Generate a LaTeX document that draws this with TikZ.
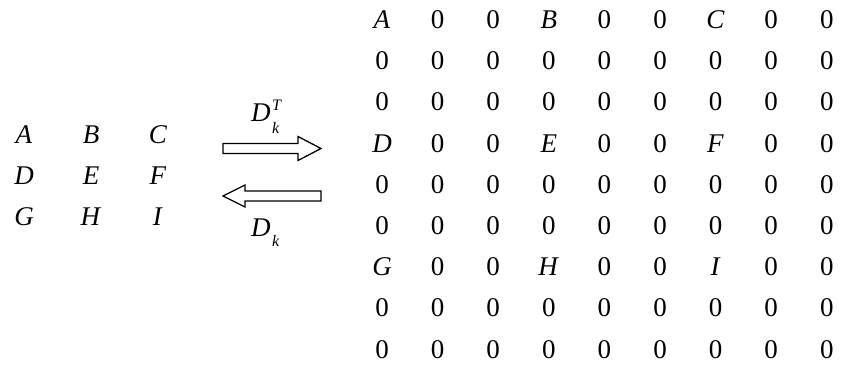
\documentclass[tikz,border=0pt]{standalone}
\usepackage{fontspec}
\setmainfont{Liberation Serif}
\usetikzlibrary{calc}
\begin{document}
\begin{tikzpicture}[x=1pt,y=-1pt,
  ent/.style={anchor=base, inner sep=0pt, font=\fontsize{27}{30}\selectfont},
  idx/.style={anchor=base west, inner sep=0pt, font=\fontsize{16}{18}\selectfont\itshape},
  blockarrow/.style={draw=black, line width=1.3pt, fill=white, line join=miter}]
\useasboundingbox (0,0) rectangle (847,369);

% 3x3 block of samples
\foreach \t [count=\i from 0] in {A,B,C,D,E,F,G,H,I}{
  \pgfmathtruncatemacro{\r}{div(\i,3)}
  \pgfmathtruncatemacro{\c}{mod(\i,3)}
  \node[ent] (s-\t) at ({24+67*\c},{143+41*\r}) {\textit{\t}};
}

% 9x9 upsampled block: samples on every third row and column, zeros elsewhere
\foreach \r in {0,...,8}{
  \foreach \c in {0,...,8}{
    \pgfmathtruncatemacro{\rm}{mod(\r,3)}
    \pgfmathtruncatemacro{\cm}{mod(\c,3)}
    \pgfmathtruncatemacro{\k}{div(\r,3)*3+div(\c,3)}
    \ifnum\rm=0 \ifnum\cm=0
      \def\lst{{"A","B","C","D","E","F","G","H","I"}}
      \pgfmathsetmacro{\t}{\lst[\k]}
      \node[ent] (b-\r-\c) at ({382+55.6*\c},{28.5+41.2*\r}) {\textit{\t}};
    \else
      \node[ent] (b-\r-\c) at ({382+55.6*\c},{28.5+41.2*\r}) {0};
    \fi \else
      \node[ent] (b-\r-\c) at ({382+55.6*\c},{28.5+41.2*\r}) {0};
    \fi
  }
}

% block arrows between the two grids
\coordinate (up-tail) at (223,148.5);
\coordinate (up-tip) at (321,148.5);
\coordinate (dn-tail) at (321,196);
\coordinate (dn-tip) at (223,196);

\draw[blockarrow] ($(up-tail)+(0,-5)$) -- ($(up-tip)+(-23,-5)$) -- ($(up-tip)+(-23,-12)$)
  -- (up-tip) -- ($(up-tip)+(-23,12)$) -- ($(up-tip)+(-23,5)$) -- ($(up-tail)+(0,5)$) -- cycle;
\draw[blockarrow] ($(dn-tail)+(0,-5)$) -- ($(dn-tip)+(22,-5)$) -- ($(dn-tip)+(22,-11)$)
  -- (dn-tip) -- ($(dn-tip)+(22,11)$) -- ($(dn-tip)+(22,5)$) -- ($(dn-tail)+(0,5)$) -- cycle;

% operator labels
\node[ent, anchor=base west] (op-up) at (251,121.7) {\textit{D}};
\node[idx] (op-up-k) at ($(op-up.base east)+(1,12)$) {k};
\node[idx] (op-up-T) at ($(op-up.base east)+(1,-11.5)$) {T};

\node[ent, anchor=base west] (op-dn) at (251,236) {\textit{D}};
\node[idx] (op-dn-k) at ($(op-dn.base east)+(1,10)$) {k};
\end{tikzpicture}
\end{document}
